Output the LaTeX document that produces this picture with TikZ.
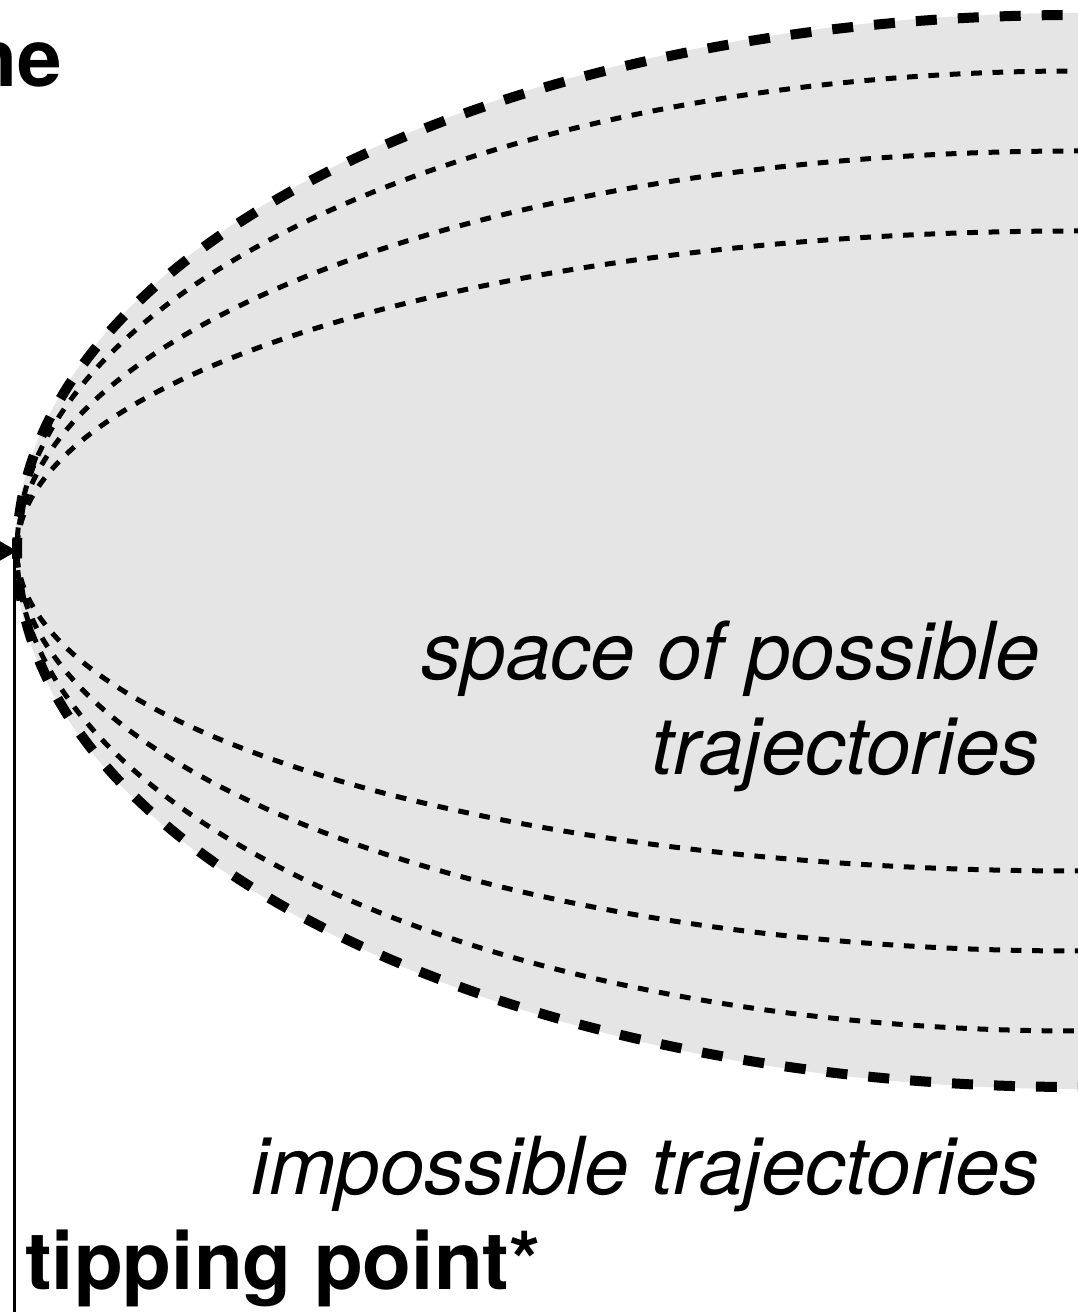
\documentclass[tikz,border=0pt]{standalone}
\usepackage{fontspec}
\setmainfont{TeX Gyre Heros}
\usetikzlibrary{arrows.meta}
\definecolor{spacegray}{RGB}{229,229,229}

\begin{document}
\begin{tikzpicture}[x=1pt, y=1pt,
    bound/.style={line width=10pt, dash pattern=on 21pt off 21pt},
    traj/.style ={line width=5pt, dash pattern=on 10.7pt off 10.7pt},
    lbl/.style  ={inner sep=0pt, font=\fontsize{80}{95}\selectfont\itshape, align=right},
    tag/.style  ={inner sep=0pt, font=\fontsize{80}{95}\selectfont\bfseries},
    arr/.style  ={-{Triangle[length=20pt, width=22pt]}, line width=3pt}]
    \useasboundingbox (0,0) rectangle (1077,1312);
    % space of trajectories
    \fill[spacegray] (1077,761) ellipse [x radius=1062pt, y radius=538pt];
    \foreach \ry in {480,400,320}
      \draw[traj] (1077,761) ellipse [x radius=1060pt, y radius=\ry pt];
    \draw[bound] (1077,761) ellipse [x radius=1060pt, y radius=536pt];
    % axis and arrow
    \coordinate (src)   at (-80,761);
    \coordinate (tip)   at (17,761);
    \coordinate (axtop) at (14,754);
    \coordinate (axbot) at (14,-20);
    \draw[arr] (src) -- (tip);
    \draw[line width=3pt] (axtop) -- (axbot);
    % labels
    \node[tag, anchor=base east] (tl) at (62,1225) {ne};
    \node[lbl, anchor=base east] (sp) at (1040,537) {space of possible\\trajectories};
    \node[lbl, anchor=base east] (im) at (1040,117) {impossible trajectories};
    \node[tag, anchor=base west] (tp) at (25,22) {tipping point*};
\end{tikzpicture}
\end{document}
